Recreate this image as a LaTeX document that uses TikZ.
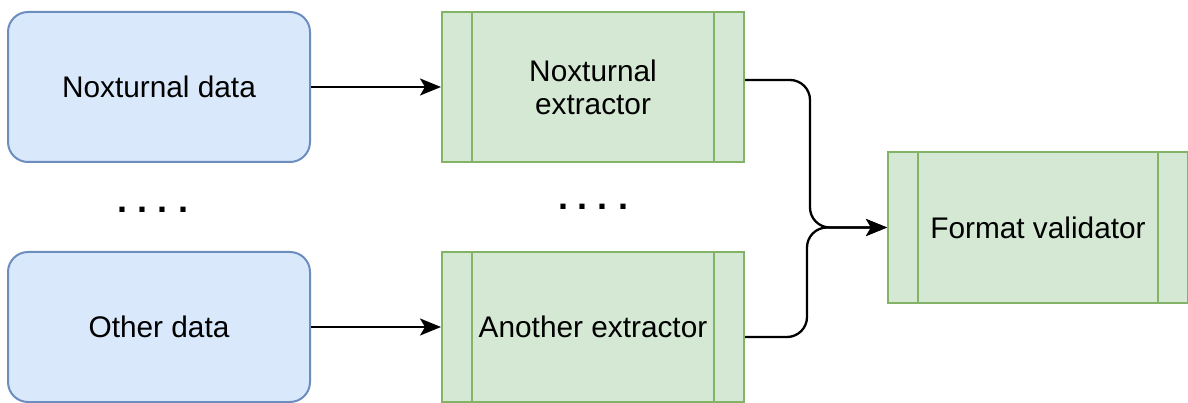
\documentclass[tikz,border=0pt]{standalone}
\usepackage{fontspec}
\setmainfont{Liberation Sans}
\usetikzlibrary{arrows.meta}
\definecolor{bluefill}{HTML}{DAE8FC}
\definecolor{bluestroke}{HTML}{6C8EBF}
\definecolor{greenfill}{HTML}{D5E8D4}
\definecolor{greenstroke}{HTML}{82B366}
\tikzset{
  boxtext/.style={font=\fontsize{29.8}{33}\selectfont, text=black, align=center},
  datanode/.style={boxtext, draw=bluestroke, fill=bluefill, line width=2pt,
    rounded corners=20pt, minimum width=302pt, minimum height=150pt},
  procnode/.style={boxtext, draw=greenstroke, fill=greenfill, line width=2pt,
    minimum width=#1, minimum height=150pt,
    path picture={
      \draw[greenstroke, line width=2pt]
        ([xshift=30pt]path picture bounding box.north west) --
        ([xshift=30pt]path picture bounding box.south west)
        ([xshift=-30pt]path picture bounding box.north east) --
        ([xshift=-30pt]path picture bounding box.south east);
    }},
  procnode/.default=302pt,
  flow/.style={draw=black, line width=2.3pt,
    -{Stealth[length=21pt, width=17pt, inset=5pt]}},
  ellipsis/.style={font=\fontsize{36}{40}\selectfont\bfseries\frenchspacing, inner sep=0pt}
}
\begin{document}
\begin{tikzpicture}[x=1pt, y=-1pt]
  \useasboundingbox (0,0) rectangle (1188,403);

  % sources
  \node[datanode] (d1) at (159,87) {Noxturnal data};
  \node[datanode] (d2) at (159,327) {Other data};

  % extractors
  \node[procnode] (e1) at (593,87) {Noxturnal\\extractor};
  \node[procnode] (e2) at (593,327) {Another extractor};

  % validator
  \node[procnode=300pt, minimum height=151pt] (v) at (1038,227.5) {Format validator};

  % ellipses between the rows
  \node[ellipsis] (dots1) at (153,210) {. . . .};
  \node[ellipsis] (dots2) at (593,207) {. . . .};

  % connectors
  \draw[flow] (d1.east) -- (e1.west);
  \draw[flow] (d2.east) -- (e2.west);
  \draw[flow, rounded corners=20pt]
    ([yshift=7pt]e1.east) -- ++(65,0) |- (v.west);
  \draw[flow, rounded corners=20pt]
    ([yshift=-10pt]e2.east) -- ++(62,0) |- (v.west);
\end{tikzpicture}
\end{document}
